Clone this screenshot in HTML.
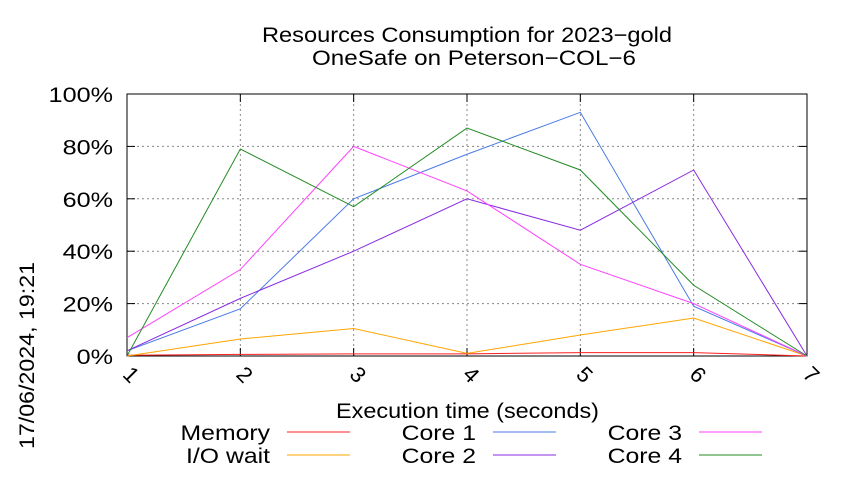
<!DOCTYPE html>
<html><head><meta charset="utf-8"><style>body{margin:0;background:#fff}svg text{font-family:"Liberation Sans",sans-serif;fill:#000}</style></head>
<body>
<svg id="c" width="850" height="475" xmlns="http://www.w3.org/2000/svg">
<text x="262" y="42" font-size="21" textLength="410" lengthAdjust="spacingAndGlyphs">Resources Consumption for 2023−gold</text>
<text x="312" y="65" font-size="21" textLength="324" lengthAdjust="spacingAndGlyphs">OneSafe on Peterson−COL−6</text>
<text transform="translate(34,449) rotate(-90)" font-size="21" textLength="187" lengthAdjust="spacingAndGlyphs">17/06/2024, 19:21</text>
<text x="336" y="418" font-size="21" textLength="263" lengthAdjust="spacingAndGlyphs">Execution time (seconds)</text>
<g id="grid"></g><g id="series"></g><g id="legend"></g>
</svg>
<script>
const categories=[1,2,3,4,5,6,7];
const yTicks=[0,20,40,60,80,100];
const memory=[0.3,0.6,0.8,0.8,1.3,1.3,0];
const ioWait=[0,6.5,10.5,1,8,14.5,0];
const core1=[2,18,60,77,93,19,0];
const core2=[2,22,40,60,48,71,0];
const core3=[7,33,80,63,35,20,0];
const core4=[0,79,57,87,71,27,0];
const NS="http://www.w3.org/2000/svg";
const L=127,R=807,T=94,B=356;
const xs=v=>L+(v-1)*(R-L)/6, ys=v=>B-v*(B-T)/100;
function mk(t,a,p){const e=document.createElementNS(NS,t);for(const k in a)e.setAttribute(k,a[k]);p.appendChild(e);return e;}
const g=document.getElementById('grid');
yTicks.forEach(v=>{const y=ys(v);
 if(v>0&&v<100){const l=mk('line',{x1:L,x2:R,y1:y,y2:y,stroke:'#888','stroke-dasharray':'2,3','stroke-width':1},g);
 
 }
 const t=mk('text',{x:L-14,y:y+8,'font-size':21,'text-anchor':'end',transform:`translate(${L-14},0) scale(1.2,1) translate(${-(L-14)},0)`},g);t.textContent=v+'%';
 
 
 mk('line',{x1:L,x2:L+8,y1:y,y2:y,stroke:'#000'},g);mk('line',{x1:R,x2:R-8,y1:y,y2:y,stroke:'#000'},g);});
categories.forEach(c=>{const x=xs(c);
 if(c>1&&c<7){const l=mk('line',{x1:x,x2:x,y1:T,y2:B,stroke:'#888','stroke-dasharray':'2,3'},g);
 
 }
 mk('line',{x1:x,x2:x,y1:B,y2:B-8,stroke:'#000'},g);mk('line',{x1:x,x2:x,y1:T,y2:T+8,stroke:'#000'},g);
 const t=mk('text',{transform:`translate(${x-1},${B+24}) rotate(45)`,'font-size':22,'text-anchor':'middle'},g);t.textContent=c;
 
 });
const f=mk('rect',{x:L,y:T,width:R-L,height:B-T,fill:'none',stroke:'#000'},g);


const S=[['Memory',memory,'#ff2020'],['I/O wait',ioWait,'#ffa500'],['Core 1',core1,'#4a7be8'],['Core 2',core2,'#8a2be2'],['Core 3',core3,'#ff40ff'],['Core 4',core4,'#228b22']];
const sg=document.getElementById('series'),lg=document.getElementById('legend');
S.forEach((s,i)=>{const p=mk('polyline',{points:s[1].map((v,j)=>xs(categories[j])+','+ys(v)).join(' '),fill:'none',stroke:s[2],'stroke-width':1},sg);
 
 
 const col=Math.floor(i/2),row=i%2,ex=270+col*206,y=432+row*23;
 const t=mk('text',{x:ex,y:y+8,'font-size':21,'text-anchor':'end',transform:`translate(${ex},0) scale(1.18,1) translate(${-ex},0)`},lg);t.textContent=s[0];
 
 
 const l=mk('line',{x1:ex+17,x2:ex+80,y1:y,y2:y,stroke:s[2]},lg);
 
 });
</script>
</body></html>
